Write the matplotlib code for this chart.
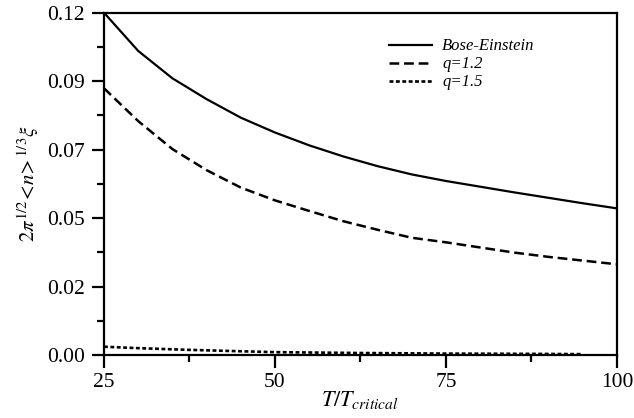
import matplotlib
matplotlib.use("Agg")
import matplotlib.pyplot as plt

# Data
T = [25, 30, 35, 40, 45, 50, 55, 60, 65, 70, 75, 80, 85, 90, 95, 100]
v_be = [0.1200, 0.1066, 0.0970, 0.0897, 0.0832, 0.0780, 0.0735, 0.0696,
        0.0662, 0.0633, 0.0610, 0.0590, 0.0570, 0.0551, 0.0532, 0.0514]
v_q12 = [0.0935, 0.0820, 0.0722, 0.0648, 0.0587, 0.0542, 0.0505, 0.0469,
         0.0439, 0.0411, 0.0395, 0.0377, 0.0359, 0.0344, 0.0331, 0.0318]

T_q15 = [25, 30, 37.5, 50, 62.5, 75, 87.5, 95]
v_q15 = [0.0029, 0.0024, 0.0018, 0.0010, 0.0007, 0.0005, 0.0004, 0.0003]

y_ticks = [0.0, 0.024, 0.048, 0.072, 0.096, 0.12]
y_ticklabels = ["0.00", "0.02", "0.05", "0.07", "0.09", "0.12"]
x_ticks = [25, 50, 75, 100]
x_ticklabels = ["25", "50", "75", "100"]

plt.rcParams['font.family'] = ['Liberation Serif', 'DejaVu Serif']
plt.rcParams['mathtext.fontset'] = 'stix'
plt.rcParams['lines.scale_dashes'] = False

fig = plt.figure(figsize=(6.34, 4.18), dpi=100)
ax = fig.add_axes([0.164, 0.1507, 0.809, 0.819])

ax.plot(T, v_be, color='black', lw=1.6, ls='-', label='Bose-Einstein')
ax.plot(T, v_q12, color='black', lw=1.8, ls=(0, (7, 3.5)), label='q=1.2')
ax.plot(T_q15, v_q15, color='black', lw=1.9, ls=(0, (2.8, 1.8)), label='q=1.5')

ax.set_xlim(25, 100)
ax.set_ylim(0, 0.12)
ax.set_xticks(x_ticks)
ax.set_xticklabels(x_ticklabels)
ax.set_xticks([37.5, 62.5, 87.5], minor=True)
ax.set_yticks(y_ticks)
ax.set_yticklabels(y_ticklabels)
ax.set_yticks([0.012, 0.036, 0.06, 0.084, 0.108], minor=True)

for s in ax.spines.values():
    s.set_linewidth(1.6)

ax.tick_params(axis='both', which='major', direction='out', length=9, width=1.6,
               labelsize=15.5)
ax.tick_params(axis='both', which='minor', direction='out', length=5, width=1.6)
ax.tick_params(axis='y', which='major', pad=5)
ax.tick_params(axis='x', which='major', pad=4)

ax.set_xlabel(r'$\mathit{T/T}_{\mathit{critical}}$', fontsize=16, labelpad=-2)
ax.set_ylabel(r'$2\pi^{\mathit{1/2}}\!<\!\mathit{n}\!>^{\mathit{1/3}}\xi$', fontsize=15, labelpad=4)

leg = ax.legend(loc='upper left', bbox_to_anchor=(0.555, 0.925), frameon=False,
                prop={'family': 'Liberation Serif', 'style': 'italic', 'size': 12},
                handlelength=2.6, handletextpad=0.6, labelspacing=0.12, borderaxespad=0,
                borderpad=0)

fig.savefig('out.png', dpi=100)
